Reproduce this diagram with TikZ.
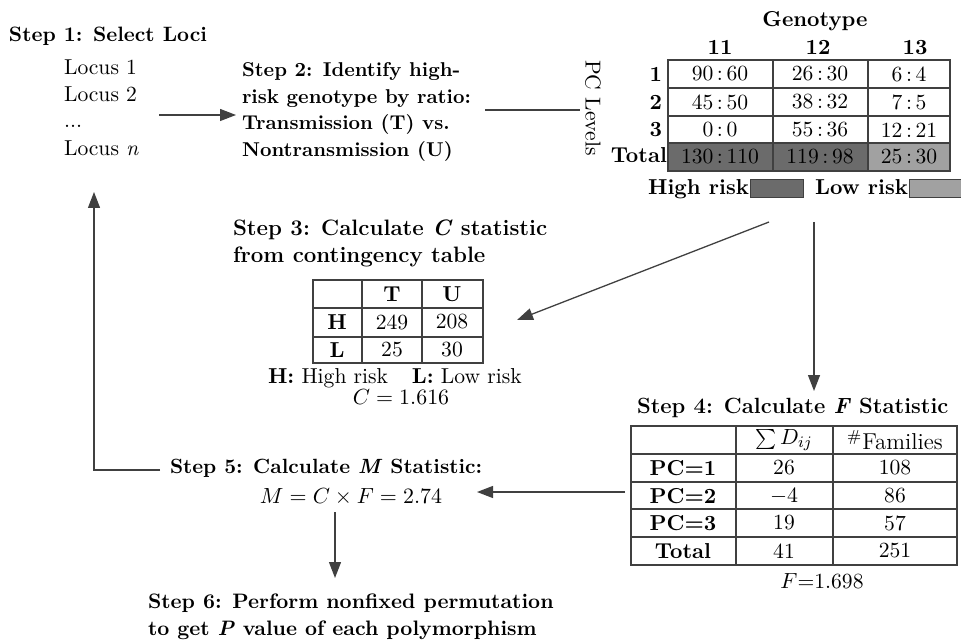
\documentclass[tikz,border=0pt]{standalone}
\usetikzlibrary{arrows.meta}
\newcommand\fsMain{\fontsize{10.8}{13}\selectfont}
\newcommand\fsTwo{\fontsize{10}{12}\selectfont}
\newcommand\fsOne{\fontsize{10.4}{12.5}\selectfont}
\newcommand\fsThree{\fontsize{11.15}{13}\selectfont}
\newcommand\fsFour{\fontsize{11}{13}\selectfont}
\newcommand\fsFive{\fontsize{10.3}{12.5}\selectfont}
\newcommand\fsSix{\fontsize{10.45}{12.5}\selectfont}
\definecolor{hirisk}{gray}{0.42}
\definecolor{lorisk}{gray}{0.63}
\definecolor{lncol}{gray}{0.25}
\begin{document}
\begin{tikzpicture}[x=0.5pt,y=-0.5pt,
  every node/.style={inner sep=0pt, outer sep=0pt, font=\fsMain},
  conn/.style={draw=lncol, line width=0.65pt},
  arr/.style={conn, -{Triangle[length=8pt,width=6pt]}},
  gridln/.style={draw=lncol, line width=0.6pt},
  txt/.style={anchor=base west},
  ctr/.style={anchor=center},
  cbase/.style={anchor=base}]
\useasboundingbox (0,0) rectangle (961,640);

% ---------- Step 1 ----------
\node[txt,font=\fsOne] (s1) at (9,42) {\bfseries Step 1: Select Loci};
\node[txt] (l1) at (64,75) {Locus 1};
\node[txt] (l2) at (64,102) {Locus 2};
\node[txt] (l3) at (64,128) {...};
\node[txt] (ln) at (64,156) {Locus \textit{n}};

% ---------- Step 2 ----------
\node[txt,font=\fsTwo] (s2a) at (242,77) {\bfseries Step 2: Identify high-};
\node[txt,font=\fsTwo] (s2b) at (242,104) {\bfseries risk genotype by ratio:};
\node[txt,font=\fsTwo] (s2c) at (242,130) {\bfseries Transmission (T) vs.};
\node[txt,font=\fsTwo] (s2d) at (242,157) {\bfseries Nontransmission (U)};

% ---------- Genotype table ----------
\fill[hirisk] (668,143) rectangle (868,171);
\fill[lorisk] (868,143) rectangle (950,171);
\draw[gridln] (668,60) rectangle (950,171);
\foreach \yy in {88,116,143} \draw[gridln] (668,\yy) -- (950,\yy);
\foreach \xx in {773,868} \draw[gridln] (\xx,60) -- (\xx,171);
\node[cbase] (geno) at (815,27) {\bfseries Genotype};
\node[cbase] (g11) at (720,55) {\bfseries 11};
\node[cbase] (g12) at (818,55) {\bfseries 12};
\node[cbase] (g13) at (915,55) {\bfseries 13};
\node[anchor=east] (r1) at (662,74) {\bfseries 1};
\node[anchor=east] (r2) at (662,102) {\bfseries 2};
\node[anchor=east] (r3) at (662,130) {\bfseries 3};
\node[anchor=base east] (rt) at (667,163) {\bfseries Total};
\node[rotate=-90] (pcl) at (593,108) {PC Levels};
\node[ctr] at (720,74) {90\,:\,60};
\node[ctr] at (820,74) {26\,:\,30};
\node[ctr] at (909,74) {6\,:\,4};
\node[ctr] at (720,102) {45\,:\,50};
\node[ctr] at (820,102) {38\,:\,32};
\node[ctr] at (909,102) {7\,:\,5};
\node[ctr] at (720,130) {0\,:\,0};
\node[ctr] at (820,130) {55\,:\,36};
\node[ctr] at (909,130) {12\,:\,21};
\node[ctr] at (720,157) {130\,:\,110};
\node[ctr] at (820,157) {119\,:\,98};
\node[ctr] at (909,157) {25\,:\,30};
% legend
\node[anchor=base east] (hr) at (749,195) {\bfseries High risk};
\fill[hirisk, draw=lncol, line width=0.5pt] (750,180) rectangle (803,198);
\node[anchor=base east] (lr) at (908,195) {\bfseries Low risk};
\fill[lorisk, draw=lncol, line width=0.5pt] (909,180) rectangle (966,198);

% ---------- Step 3 ----------
\node[txt,font=\fsThree] (s3a) at (233,236) {\bfseries Step 3: Calculate \textit{C} statistic};
\node[txt,font=\fsThree] (s3b) at (233,263) {\bfseries from contingency table};
\draw[gridln] (313,280) rectangle (483,363);
\foreach \yy in {308,337} \draw[gridln] (313,\yy) -- (483,\yy);
\foreach \xx in {362,422} \draw[gridln] (\xx,280) -- (\xx,363);
\node[ctr] at (392,294) {\bfseries T};
\node[ctr] at (452,294) {\bfseries U};
\node[ctr] at (337,322) {\bfseries H};
\node[ctr] at (337,350) {\bfseries L};
\node[ctr] at (392,322) {249};
\node[ctr] at (452,322) {208};
\node[ctr] at (392,350) {25};
\node[ctr] at (452,350) {30};
\node[txt] (hl) at (268,383) {\textbf{H:} High risk\hspace{1.1em}\textbf{L:} Low risk};
\node[cbase] (cval) at (401,404) {$C = 1.616$};

% ---------- Step 4 ----------
\node[txt,font=\fsFour] (s4) at (637,413) {\bfseries Step 4: Calculate \textit{F} Statistic};
\draw[gridln] (631,426) rectangle (957,565);
\foreach \yy in {454,482,509,537} \draw[gridln] (631,\yy) -- (957,\yy);
\foreach \xx in {736,833} \draw[gridln] (\xx,426) -- (\xx,565);
\node[ctr] at (784,440) {$\sum D_{ij}$};
\node[ctr,font=\fontsize{11.5}{13}\selectfont] at (895,440) {$^{\#}$Families};
\node[ctr] at (683,468) {\bfseries PC=1};
\node[ctr] at (683,496) {\bfseries PC=2};
\node[ctr] at (683,523) {\bfseries PC=3};
\node[ctr] at (683,551) {\bfseries Total};
\node[ctr] at (784,468) {26};
\node[ctr] at (784,496) {$-4$};
\node[ctr] at (784,523) {19};
\node[ctr] at (784,551) {41};
\node[ctr] at (895,468) {108};
\node[ctr] at (895,496) {86};
\node[ctr] at (895,523) {57};
\node[ctr] at (895,551) {251};
\node[cbase] (fval) at (822,588) {$F$=1.698};

% ---------- Step 5 ----------
\node[txt,font=\fsFive] (s5) at (170,473) {\bfseries Step 5: Calculate \textit{M} Statistic:};
\node[cbase] (mval) at (351,503) {$M = C \times F = 2.74$};

% ---------- Step 6 ----------
\node[txt,font=\fsSix] (s6a) at (148,608) {\bfseries Step 6: Perform nonfixed permutation};
\node[txt,font=\fsSix] (s6b) at (148,635) {\bfseries to get \textit{P} value of each polymorphism};

% ---------- connectors ----------
\coordinate (a1s) at (159,115);
\coordinate (a1e) at (236,115);
\coordinate (a2s) at (485,110);
\coordinate (a2e) at (580,110);
\coordinate (a3s) at (769,222);
\coordinate (a3e) at (517,320);
\coordinate (a4s) at (814,222);
\coordinate (a4e) at (814,391);
\coordinate (a5s) at (625,492);
\coordinate (a5e) at (477,492);
\coordinate (a6s) at (160,470);
\coordinate (a6c) at (94,470);
\coordinate (a6e) at (94,192);
\coordinate (a7s) at (335,512);
\coordinate (a7e) at (335,578);
\draw[arr] (a1s) -- (a1e);
\draw[conn] (a2s) -- (a2e);
\draw[arr] (a3s) -- (a3e);
\draw[arr] (a4s) -- (a4e);
\draw[arr] (a5s) -- (a5e);
\draw[arr] (a6s) -- (a6c) -- (a6e);
\draw[arr] (a7s) -- (a7e);
\end{tikzpicture}
\end{document}
